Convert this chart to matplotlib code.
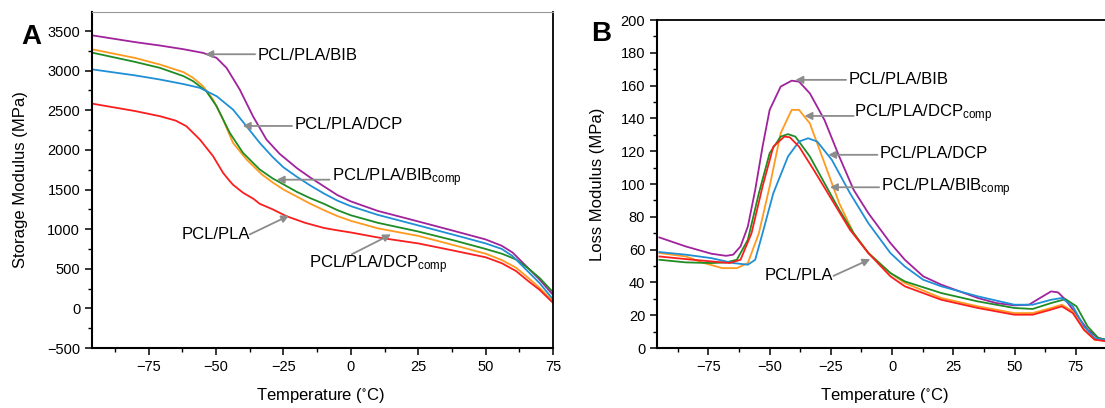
import numpy as np
import matplotlib
matplotlib.use("Agg")
import matplotlib.pyplot as plt
from matplotlib.ticker import MultipleLocator

plt.rcParams['font.family'] = ['Liberation Sans', 'DejaVu Sans']
plt.rcParams['mathtext.default'] = 'regular'

# ---- data: storage modulus (panel A) ----
sm_bib_t = [-95.5, -80, -70.8, -62, -54.8, -49.8, -46.1, -41.2, -36.3, -31.3, -26.4, -20, -15, -10, -5, 0, 10, 25, 38, 50, 56, 60, 65, 70, 75]
sm_bib = [3443, 3360, 3317, 3270, 3224, 3161, 3035, 2762, 2425, 2131, 1950, 1770, 1650, 1540, 1430, 1350, 1230, 1097, 980, 870, 790, 705, 535, 365, 170]

sm_dcp_t = [-95.5, -80, -70.8, -62, -56, -49.8, -43.7, -38.7, -33.8, -29, -25, -20, -15, -10, -5, 0, 10, 25, 38, 50, 56, 60, 65, 70, 75]
sm_dcp = [3014, 2940, 2888, 2830, 2783, 2678, 2509, 2299, 2089, 1910, 1780, 1660, 1550, 1450, 1360, 1290, 1180, 1047, 930, 820, 750, 660, 490, 320, 115]

sm_bibc_t = [-95.5, -80, -70.8, -62, -58.5, -53.6, -49.8, -44.9, -40, -33.8, -29, -25, -20, -15, -10, -5, 0, 10, 25, 38, 50, 56, 61.3, 66, 70, 75]
sm_bibc = [3224, 3110, 3035, 2930, 2867, 2741, 2552, 2215, 1963, 1753, 1640, 1565, 1470, 1390, 1320, 1240, 1175, 1080, 970, 860, 750, 690, 618, 500, 385, 205]

sm_dcpc_t = [-95.5, -80, -70.8, -62, -58.5, -54.8, -51.1, -47.4, -43.7, -38.7, -33, -29, -25, -20, -15, -10, -5, 0, 10, 25, 38, 50, 56, 61.3, 66, 70, 75]
sm_dcpc = [3266, 3160, 3077, 2980, 2909, 2803, 2636, 2383, 2089, 1879, 1690, 1590, 1500, 1410, 1320, 1240, 1165, 1105, 1010, 915, 800, 690, 610, 513, 380, 260, 90]

sm_pla_t = [-95.5, -80, -70.8, -65, -61, -56, -51.1, -47.4, -45, -43.7, -40, -36, -33.8, -29, -23.9, -17, -10, -5, 0, 10, 25, 38, 50, 56, 61.3, 66, 70, 75]
sm_pla = [2581, 2490, 2425, 2370, 2299, 2131, 1921, 1711, 1610, 1560, 1460, 1380, 1320, 1250, 1164, 1080, 1015, 985, 958, 895, 820, 730, 645, 570, 471, 340, 235, 70]

# ---- data: loss modulus (panel B) ----
lm_bib_t = [-95, -84.2, -73.8, -67.8, -64.9, -61.9, -58.9, -55.9, -52.9, -50, -45.5, -41, -38, -33.6, -27.6, -21.6, -15.7, -9.7, -0.7, 5.2, 12.7, 20.1, 27.6, 35, 42.5, 49.9, 55.9, 60.4, 64.9, 67.8, 70.8, 75.3, 79.8, 84.2, 89.9, 100]
lm_bib = [67.4, 61.9, 57.5, 56.2, 56.9, 61.9, 74.1, 96.4, 122.8, 145.2, 159.4, 163, 162.4, 155.3, 139, 116.8, 96.4, 82.2, 64, 53.8, 43.7, 38.6, 34.5, 30.5, 27.4, 26, 26.4, 30.5, 34.5, 33.9, 29.4, 20.3, 11.2, 6.1, 4.1, 3.8]

lm_dcpc_t = [-95, -84.2, -76.8, -69.3, -63.4, -58.9, -54.4, -50, -45.5, -41, -38, -33.6, -27.6, -21.6, -15.7, -9.7, -0.7, 5.2, 20.1, 35, 49.9, 57.4, 64.9, 69.3, 73.8, 78.3, 82.7, 89.9, 100]
lm_dcpc = [57.9, 55.8, 51.8, 48.7, 48.7, 51.8, 70, 98.5, 131, 145.2, 145.2, 137, 112.7, 88.3, 70, 57.9, 45.7, 39.6, 30.5, 25.4, 21.3, 21.3, 24.4, 26.4, 22.3, 11.2, 5.1, 4.1, 3.8]

lm_bibc_t = [-95, -84.2, -73.8, -67.8, -63.4, -58.9, -54.4, -50, -45.5, -42.5, -39.5, -33.6, -27.6, -21.6, -15.7, -9.7, -0.7, 5.2, 20.1, 35, 49.9, 57.4, 64.9, 70.8, 75.3, 79.8, 84.2, 89.9, 100]
lm_bibc = [53.8, 52.2, 51.8, 52.2, 53.8, 66, 94.4, 118.8, 128.9, 130.4, 128.9, 116.8, 100.5, 84.3, 70, 57.9, 45.7, 40.6, 33.5, 28.4, 24.4, 23.8, 27.4, 29.8, 25.4, 13.2, 6.1, 4.1, 3.8]

lm_dcp_t = [-95, -84.2, -73.8, -64.9, -58.9, -55.9, -52.9, -48.5, -42.5, -38, -34.3, -30.6, -24.6, -17.2, -9.7, -0.7, 5.2, 12.7, 20.1, 35, 49.9, 57.4, 64.9, 69.3, 73.8, 78.3, 82.7, 89.9, 100]
lm_dcp = [58.5, 56.9, 54.8, 51.8, 50.8, 53.8, 70, 94.4, 116.8, 125.9, 127.9, 125.9, 114.7, 94.4, 76.1, 57.9, 49.7, 41.6, 37.6, 31.5, 26.4, 26.4, 29.4, 30.5, 25.4, 13.2, 6.1, 4.1, 3.8]

lm_pla_t = [-95, -84.2, -73.8, -66.4, -61.9, -57.4, -52.9, -48.5, -44, -41.8, -38, -32, -24.6, -17.2, -9.7, -0.7, 5.2, 20.1, 35, 49.9, 57.4, 64.9, 69.3, 73.8, 78.3, 82.7, 89.9, 100]
lm_pla = [55.8, 54.2, 52.8, 51.8, 53.8, 70, 98.5, 122.8, 128.9, 128.5, 122.8, 108.6, 90.4, 72.1, 57.9, 43.7, 37.6, 29.4, 24.4, 20.3, 20.3, 23.4, 25.4, 21.3, 11.2, 5.1, 3.5, 3.3]

c_bib = '#a0229c'
c_dcpc = '#ff9a1f'
c_bibc = '#1f8c24'
c_dcp = '#1f8fd6'
c_pla = '#fa1e1e'
arrow_c = '#8c8c8c'
fs = 12


def label(ax, txt, txt_xy, start, tip, ha='left'):
    ax.text(txt_xy[0], txt_xy[1], txt, fontsize=fs, ha=ha, va='center')
    ax.annotate('', xy=tip, xytext=start,
                arrowprops=dict(arrowstyle='-|>', color=arrow_c, lw=1.3,
                                mutation_scale=11, shrinkA=0, shrinkB=0))


def style(ax):
    ax.tick_params(which='major', direction='out', length=5, width=1.1, labelsize=10.5, colors='black')
    ax.tick_params(which='minor', direction='out', length=3, width=1.0)
    ax.tick_params(top=False, right=False, which='both')
    for s in ['left', 'bottom']:
        ax.spines[s].set_linewidth(1.5)


fig = plt.figure(figsize=(11.05, 4.08), dpi=100)
lw = 1.3

# ---------- panel A ----------
ax1 = fig.add_axes([92 / 1105, 60 / 408, (553 - 92) / 1105, (348 - 12) / 408])
ax1.plot(sm_bib_t, sm_bib, color=c_bib, lw=lw)
ax1.plot(sm_dcpc_t, sm_dcpc, color=c_dcpc, lw=lw)
ax1.plot(sm_bibc_t, sm_bibc, color=c_bibc, lw=lw)
ax1.plot(sm_dcp_t, sm_dcp, color=c_dcp, lw=lw)
ax1.plot(sm_pla_t, sm_pla, color=c_pla, lw=lw)
ax1.set_xlim(-96, 75)
ax1.set_ylim(-500, 3740)
ax1.set_xticks([-75, -50, -25, 0, 25, 50, 75])
ax1.xaxis.set_minor_locator(MultipleLocator(12.5))
ax1.set_yticks(np.arange(-500, 3501, 500))
ax1.yaxis.set_minor_locator(MultipleLocator(250))
style(ax1)
ax1.spines['top'].set_color('#999999')
ax1.spines['top'].set_linewidth(0.8)
ax1.spines['right'].set_linewidth(1.3)
ax1.set_ylabel('Storage Modulus (MPa)', fontsize=fs, labelpad=14)
ax1.set_xlabel('Temperature ($^{\\circ}$C)', fontsize=fs)
ax1.xaxis.set_label_coords((320 - 92) / 461, -(386 - 348) / 336)

label(ax1, 'PCL/PLA/BIB', (-34.6, 3194), (-35.5, 3207), (-54, 3207))
label(ax1, 'PCL/PLA/DCP', (-20.9, 2315), (-21.8, 2302), (-40.1, 2302))
label(ax1, 'PCL/PLA/BIB$_{comp}$', (-7, 1645), (-7.9, 1624), (-27.5, 1624))
label(ax1, 'PCL/PLA', (-37.5, 933), (-37.5, 933), (-22.9, 1171), ha='right')
ax1.text(-15.6, 556, 'PCL/PLA/DCP$_{comp}$', fontsize=fs, ha='left', va='center')
ax1.annotate('', xy=(14.9, 933), xytext=(0.3, 682),
             arrowprops=dict(arrowstyle='-|>', color=arrow_c, lw=1.3,
                             mutation_scale=11, shrinkA=0, shrinkB=0))
fig.text(31 / 1105, 1 - 37 / 408, 'A', fontsize=20, fontweight='bold', ha='center', va='center')

# ---------- panel B ----------
ax2 = fig.add_axes([657 / 1105, 60 / 408, (1137 - 657) / 1105, (348 - 20) / 408])
ax2.plot(lm_bib_t, lm_bib, color=c_bib, lw=lw)
ax2.plot(lm_dcpc_t, lm_dcpc, color=c_dcpc, lw=lw)
ax2.plot(lm_bibc_t, lm_bibc, color=c_bibc, lw=lw)
ax2.plot(lm_dcp_t, lm_dcp, color=c_dcp, lw=lw)
ax2.plot(lm_pla_t, lm_pla, color=c_pla, lw=lw)
ax2.set_xlim(-96, 100)
ax2.set_ylim(0, 200)
ax2.set_xticks([-75, -50, -25, 0, 25, 50, 75])
ax2.xaxis.set_minor_locator(MultipleLocator(12.5))
ax2.set_yticks(np.arange(0, 201, 20))
ax2.yaxis.set_minor_locator(MultipleLocator(10))
style(ax2)
ax2.spines['top'].set_linewidth(1.3)
ax2.set_ylabel('Loss Modulus (MPa)', fontsize=fs, labelpad=11)
ax2.set_xlabel('Temperature ($^{\\circ}$C)', fontsize=fs)
ax2.xaxis.set_label_coords((884 - 657) / (1137 - 657), -(386 - 348) / 328)

label(ax2, 'PCL/PLA/BIB', (-17.9, 163.5), (-18.8, 163.5), (-39.5, 163.5))
label(ax2, 'PCL/PLA/DCP$_{comp}$', (-15.7, 142.7), (-15.7, 141.5), (-35.8, 141.5))
label(ax2, 'PCL/PLA/DCP', (-5.2, 118.8), (-6, 117.8), (-26.1, 117.8))
label(ax2, 'PCL/PLA/BIB$_{comp}$', (-4.5, 97.9), (-5.3, 98), (-25.4, 98))
label(ax2, 'PCL/PLA', (-23.9, 44), (-23.9, 44), (-8.9, 54.2), ha='right')
fig.text(601 / 1105, 1 - 34 / 408, 'B', fontsize=20, fontweight='bold', ha='center', va='center')

fig.savefig('out.png', dpi=100)
